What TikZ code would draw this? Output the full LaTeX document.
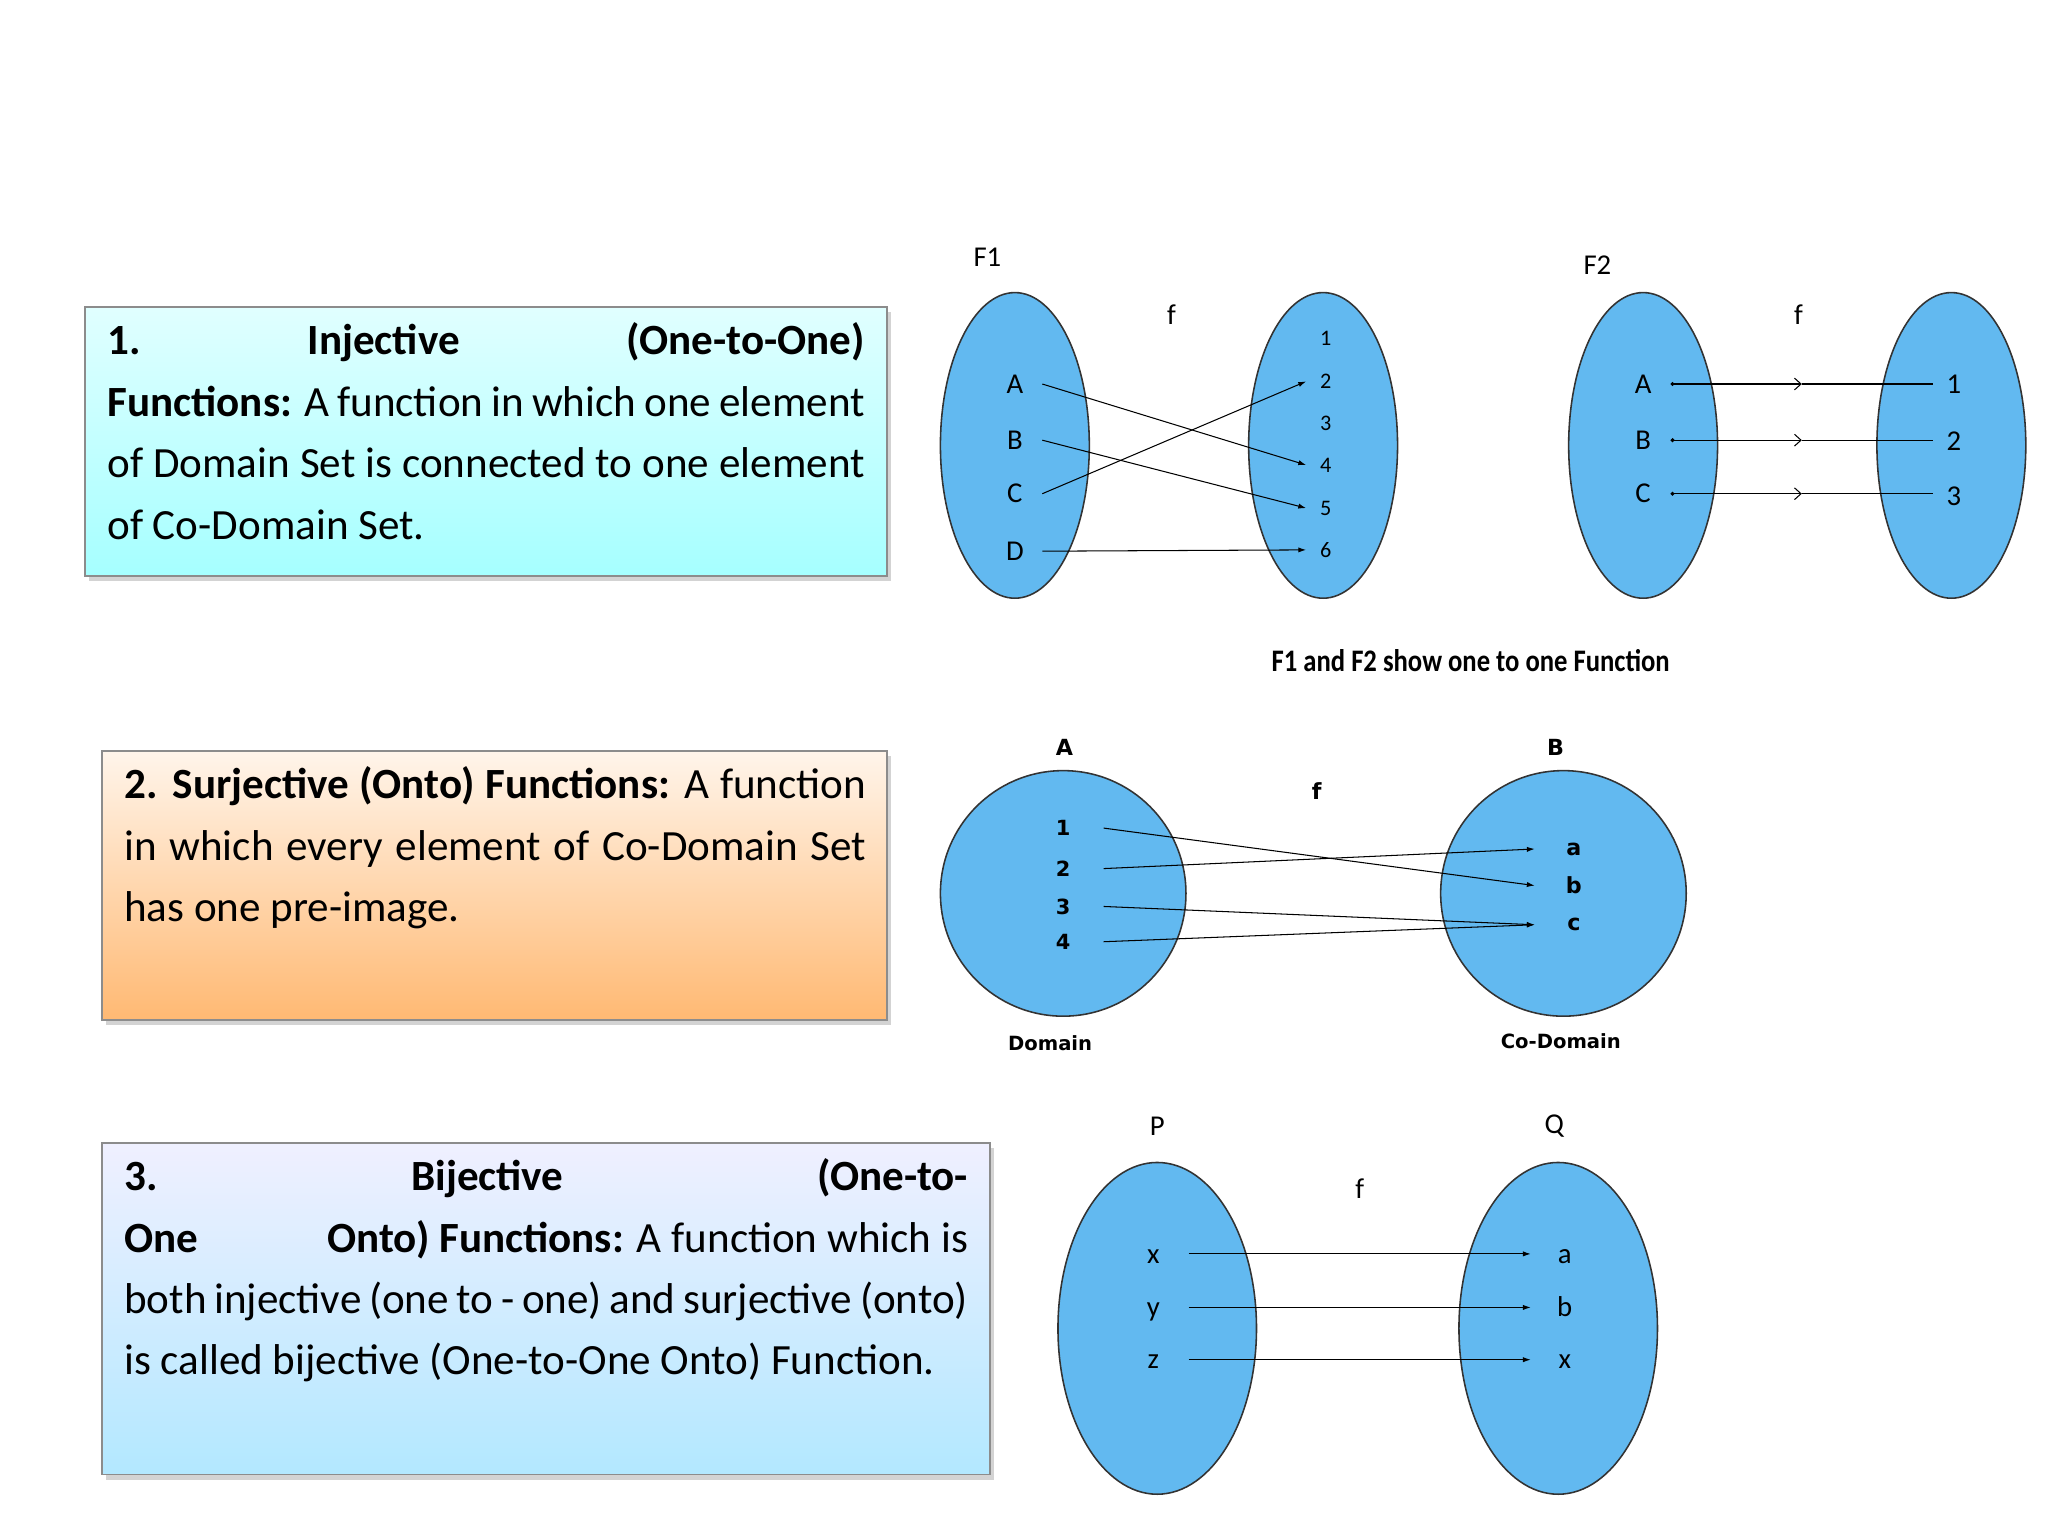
\documentclass[tikz,border=0pt]{standalone}
\usepackage{fontspec}
\setmainfont{Carlito}
\newfontfamily\dv{DejaVu Sans}
\usetikzlibrary{arrows.meta,shadows,shapes.geometric,calc}
\definecolor{blob}{HTML}{62B9F0}
\begin{document}
\begin{tikzpicture}[x=1pt,y=-1pt,
 set/.style={draw=black!80,line width=1.2pt,fill=blob,ellipse},
 lab/.style={font=\fontsize{22}{24}\selectfont,inner sep=0pt},
 sm/.style={font=\fontsize{17}{19}\selectfont,inner sep=0pt},
 arr/.style={line width=0.8pt,-{Latex[length=6pt,width=4pt]}}]
\useasboundingbox (0,0) rectangle (1568,1176);
% boxes
\shade[top color=cyan!12,bottom color=cyan!35!white,draw=black!45,line width=1pt,drop shadow={shadow xshift=3pt,shadow yshift=-4pt,opacity=0.35}] (65,235) rectangle (679,441);
\node[anchor=north west,text width=580pt,align=justify,font=\fontsize{33}{47}\selectfont,inner sep=0pt] (t1) at (82,247) {\textbf{1.\hfill Injective\hfill (One-to-One)} \textbf{Functions:} A function in which one element of Domain Set is connected to one element of Co-Domain Set.};
\shade[top color=orange!8,bottom color=orange!55!white,draw=black!45,line width=1pt,drop shadow={shadow xshift=3pt,shadow yshift=-4pt,opacity=0.35}] (78,575) rectangle (679,781);
\node[anchor=north west,text width=568pt,align=justify,font=\fontsize{33}{47}\selectfont,inner sep=0pt] (t2) at (95,587) {\textbf{2. Surjective (Onto) Functions:} A function in which every element of Co-Domain Set has one pre-image.};
\shade[top color=blue!6,bottom color=blue!30!cyan!30!white,draw=black!45,line width=1pt,drop shadow={shadow xshift=3pt,shadow yshift=-4pt,opacity=0.35}] (78,875) rectangle (758,1129);
\node[anchor=north west,text width=646pt,align=justify,font=\fontsize{33}{47}\selectfont,inner sep=0pt] (t3) at (95,887) {\textbf{3.\hfill Bijective\hfill (One-to-One\hfill Onto)} \textbf{Functions:} A function which is both injective (one to - one) and surjective (onto) is called bijective (One-to-One Onto) Function.};
% F1
\node[set,minimum width=114pt,minimum height=234pt] (L1) at (777,341) {};
\node[set,minimum width=114pt,minimum height=234pt] (R1) at (1013,341) {};
\node[lab] (F1) at (756,197) {F1};
\node[lab] (f1) at (897,241) {f};
\foreach \n/\y in {A/294,B/337,C/378,D/422}{\node[lab] (a\n) at (777,\y) {\n}; \coordinate (s\n) at (798,\y);}
\foreach \n/\y in {1/259,2/292,3/324,4/356,5/389,6/421}{\node[sm] (n\n) at (1015,\y) {\n}; \coordinate (e\n) at (1000,\y);}
\draw[arr] (sA) -- (e4); \draw[arr] (sB) -- (e5); \draw[arr] (sC) -- (e2); \draw[arr] (sD) -- (e6);
% F2
\node[set,minimum width=114pt,minimum height=234pt] (L2) at (1258,341) {};
\node[set,minimum width=114pt,minimum height=234pt] (R2) at (1494,341) {};
\node[lab] (F2) at (1223,203) {F2};
\node[lab] (f2) at (1377,241) {f};
\foreach \n/\y/\m/\z in {A/294/1/294,B/337/2/338,C/378/3/380}{
 \node[lab] (b\n) at (1258,\y) {\n};
 \node[lab] (m\m) at (1496,\z) {\m};
 \coordinate (p\n) at (1279,\y); \coordinate (q\n) at (1480,\y);
 \draw[line width=0.8pt,{Circle[length=3pt]}-{Straight Barb[length=5pt,width=9pt]}] (p\n) -- ($(p\n)!0.5!(q\n)$) coordinate (h\n);
 \draw[line width=0.8pt] (h\n) -- (q\n);}
\node[font=\fontsize{24}{26}\selectfont\bfseries,xscale=0.85] (cap) at (1126,506) {F1 and F2 show one to one Function};
% Surjective
\node[set,circle,minimum size=188pt] (CA) at (814,684) {};
\node[set,circle,minimum size=188pt] (CB) at (1197,684) {};
\node[font=\dv\bfseries\fontsize{17}{19}\selectfont] (lA) at (815,572) {A};
\node[font=\dv\bfseries\fontsize{17}{19}\selectfont] (lB) at (1191,572) {B};
\node[font=\dv\bfseries\fontsize{17}{19}\selectfont] (lf) at (1008,606) {f};
\node[font=\dv\bfseries\fontsize{15}{17}\selectfont] (dom) at (804,799) {Domain};
\node[font=\dv\bfseries\fontsize{15}{17}\selectfont] (cod) at (1195,797) {Co-Domain};
\foreach \n/\y in {1/634,2/665,3/694,4/721}{\node[font=\dv\bfseries\fontsize{16}{18}\selectfont] (u\n) at (814,\y) {\n}; \coordinate (su\n) at (845,\y);}
\foreach \n/\y in {a/650,b/678,c/708}{\node[font=\dv\bfseries\fontsize{17}{19}\selectfont] (v\n) at (1205,\y) {\n}; \coordinate (ev\n) at (1175,\y);}
\draw[arr] (su1) -- (evb); \draw[arr] (su2) -- (eva); \draw[arr] (su3) -- (evc); \draw[arr] (su4) -- (evc);
% Bijective
\node[set,minimum width=152pt,minimum height=254pt] (P) at (886,1017) {};
\node[set,minimum width=152pt,minimum height=254pt] (Q) at (1193,1017) {};
\node[lab] (lP) at (886,862) {P};
\node[lab] (lQ) at (1190,862) {Q};
\node[lab] (lf3) at (1041,910) {f};
\foreach \s/\t/\y in {x/a/960,y/b/1001,z/x/1041}{
 \node[lab,anchor=base] (w\s) at (883,\y+7) {\s};
 \node[lab,anchor=base] (k\s) at (1198,\y+7) {\t};
 \coordinate (ws\s) at (910,\y); \coordinate (ke\s) at (1172,\y);
 \draw[arr] (ws\s) -- (ke\s);}
\end{tikzpicture}
\end{document}
